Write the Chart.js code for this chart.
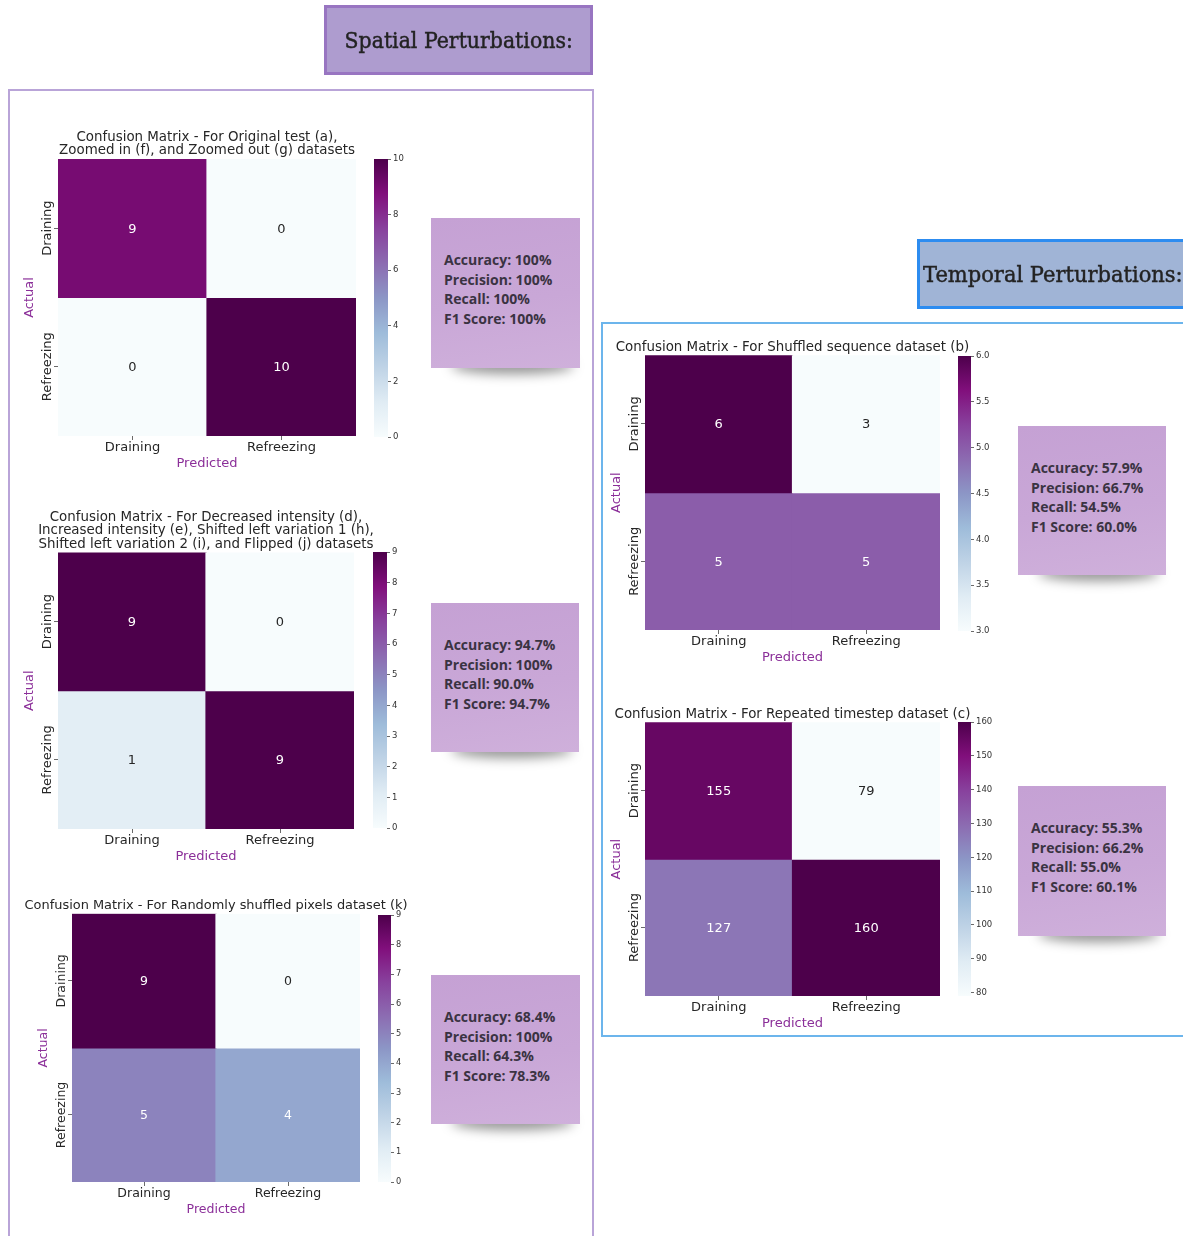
<!DOCTYPE html>
<html>
<head>
<meta charset="utf-8">
<title>Confusion matrices – spatial and temporal perturbations</title>
<script src="https://cdn.jsdelivr.net/npm/chart.js@4.4.1/dist/chart.umd.min.js"></script>
<style>
  html, body { margin: 0; padding: 0; background: #fff; }
  body { position: relative; width: 1183px; height: 1236px; overflow: hidden; font-family: 'DejaVu Sans', sans-serif; }
  .frame { position: absolute; box-sizing: border-box; }
  .header { position: absolute; box-sizing: border-box; display: flex; align-items: center; font-family: 'DejaVu Serif', serif; font-size: 22px; color: #232323; white-space: nowrap; -webkit-text-stroke: 0.45px #232323; }
  .header span { display: inline-block; transform: scaleX(0.93); }
  .note { position: absolute; box-sizing: border-box; padding: 32px 0 0 13px; background: linear-gradient(172deg, #c5a1d4 0%, #c9a7d7 55%, #cfb0db 100%); font-family: 'Open Sans', sans-serif; font-weight: 700; font-size: 14px; line-height: 19.7px; color: #3a3342; white-space: nowrap; }
  .shadow { position: absolute; background: rgba(0,0,0,0.42); filter: blur(6px); border-radius: 50%; }
  canvas { position: absolute; }
</style>
</head>
<body>
<script>
// ---- data ---------------------------------------------------------------
const classes = ['Draining', 'Refreezing'];
const metricNames = ['Accuracy', 'Precision', 'Recall', 'F1 Score'];

const titleOriginal = ['Confusion Matrix - For Original test (a),', 'Zoomed in (f), and Zoomed out (g) datasets'];
const titleIntensity = ['Confusion Matrix - For Decreased intensity (d),', 'Increased intensity (e), Shifted left variation 1 (h),', 'Shifted left variation 2 (i), and Flipped (j) datasets'];
const titlePixels = ['Confusion Matrix - For Randomly shuffled pixels dataset (k)'];
const titleShuffled = ['Confusion Matrix - For Shuffled sequence dataset (b)'];
const titleRepeated = ['Confusion Matrix - For Repeated timestep dataset (c)'];

// rows = actual, columns = predicted
const cmOriginal = [[9, 0], [0, 10]];
const cmIntensity = [[9, 0], [1, 9]];
const cmPixels = [[9, 0], [5, 4]];
const cmShuffled = [[6, 3], [5, 5]];
const cmRepeated = [[155, 79], [127, 160]];

const ticksOriginal = [0, 2, 4, 6, 8, 10];
const ticksIntensity = [0, 1, 2, 3, 4, 5, 6, 7, 8, 9];
const ticksPixels = [0, 1, 2, 3, 4, 5, 6, 7, 8, 9];
const ticksShuffled = [3.0, 3.5, 4.0, 4.5, 5.0, 5.5, 6.0];
const ticksRepeated = [80, 90, 100, 110, 120, 130, 140, 150, 160];

const metricsOriginal = [100, 100, 100, 100];
const metricsIntensity = [94.7, 100, 90.0, 94.7];
const metricsPixels = [68.4, 100, 64.3, 78.3];
const metricsShuffled = [57.9, 66.7, 54.5, 60.0];
const metricsRepeated = [55.3, 66.2, 55.0, 60.1];

// ---- layout -------------------------------------------------------------
const panels = [
  { values: cmOriginal, title: titleOriginal, ticks: ticksOriginal, dec: 0, metrics: metricsOriginal, fs: 1,
    hm: { l: 58, t: 159, r: 356, b: 436 }, cb: { l: 374, t: 159, r: 388, b: 437 }, note: { l: 431, t: 218, w: 149, h: 150 } },
  { values: cmIntensity, title: titleIntensity, ticks: ticksIntensity, dec: 0, metrics: metricsIntensity, fs: 1,
    hm: { l: 58, t: 552, r: 354, b: 828 }, cb: { l: 373, t: 552, r: 387, b: 828 }, note: { l: 431, t: 603, w: 148, h: 149 } },
  { values: cmPixels, title: titlePixels, ticks: ticksPixels, dec: 0, metrics: metricsPixels, fs: 0.965,
    hm: { l: 72, t: 914, r: 360, b: 1182 }, cb: { l: 378, t: 915, r: 391, b: 1182 }, note: { l: 431, t: 975, w: 149, h: 149 } },
  { values: cmShuffled, title: titleShuffled, ticks: ticksShuffled, dec: 1, metrics: metricsShuffled, fs: 1,
    hm: { l: 645, t: 355, r: 940, b: 630 }, cb: { l: 958, t: 356, r: 971, b: 631 }, note: { l: 1018, t: 426, w: 148, h: 149 } },
  { values: cmRepeated, title: titleRepeated, ticks: ticksRepeated, dec: 0, metrics: metricsRepeated, fs: 1,
    hm: { l: 645, t: 722, r: 940, b: 996 }, cb: { l: 958, t: 722, r: 971, b: 996 }, note: { l: 1018, t: 786, w: 148, h: 150 } }
];

const TEXT = '#262626';
const LABEL_PURPLE = '#8b2f99';
const AXW = 40;      // y-axis band (rotated labels + axis title)
const PADX = 30;     // extra room so wide titles are not squeezed
const XH = 39;       // x-axis band (tick labels + axis title)
const CBPAD = 8;
const CBAX = 30;
const TITLE_PAD_TOP = 3.5, TITLE_PAD_BOTTOM = 1.2;

Chart.defaults.font.family = "'DejaVu Sans', sans-serif";
Chart.defaults.color = TEXT;

// matplotlib BuPu
const BUPU = ['#f7fcfd', '#e0ecf4', '#bfd3e6', '#9ebcda', '#8c96c6', '#8c6bb1', '#88419d', '#810f7c', '#4d004b'];
function hexRgb(h) { return [1, 3, 5].map(i => parseInt(h.substr(i, 2), 16)); }
function bupu(t) {
  t = Math.max(0, Math.min(1, t));
  const x = t * 8, i = Math.min(7, Math.floor(x)), f = x - i;
  const a = hexRgb(BUPU[i]), b = hexRgb(BUPU[i + 1]);
  return a.map((v, k) => Math.round(v + (b[k] - v) * f));
}
function rgbStr(c) { return `rgb(${c[0]},${c[1]},${c[2]})`; }
function luminance(c) {
  const lin = c.map(v => { v /= 255; return v <= 0.03928 ? v / 12.92 : Math.pow((v + 0.055) / 1.055, 2.4); });
  return 0.2126 * lin[0] + 0.7152 * lin[1] + 0.0722 * lin[2];
}

// value annotations inside the cells
const cellText = {
  id: 'cellText',
  afterDatasetsDraw(chart, args, opts) {
    const ctx = chart.ctx;
    ctx.save();
    ctx.font = `${opts.size}px 'DejaVu Sans', sans-serif`;
    ctx.textAlign = 'center';
    ctx.textBaseline = 'middle';
    chart.data.datasets.forEach((ds, i) => {
      chart.getDatasetMeta(i).data.forEach((bar, j) => {
        const v = opts.values[i][j];
        const c = bupu((v - opts.vmin) / (opts.vmax - opts.vmin));
        ctx.fillStyle = luminance(c) > 0.408 ? TEXT : '#ffffff';
        ctx.fillText(String(v), bar.x, (bar.y + bar.base) / 2 + 1);
      });
    });
    ctx.restore();
  }
};

// rotated row labels on the y axis
const rowLabels = {
  id: 'rowLabels',
  afterDraw(chart, args, opts) {
    const ctx = chart.ctx, ys = chart.scales.y;
    const x = chart.chartArea.left - 7.5;
    ctx.save();
    ctx.font = `${opts.size}px 'DejaVu Sans', sans-serif`;
    ctx.fillStyle = TEXT;
    ctx.textAlign = 'center';
    ctx.textBaseline = 'alphabetic';
    opts.labels.forEach((lab, i) => {
      ctx.save();
      ctx.translate(x, ys.getPixelForValue(i + 0.5));
      ctx.rotate(-Math.PI / 2);
      ctx.fillText(lab, 0, 0);
      ctx.restore();
    });
    ctx.restore();
  }
};

function addEl(cls, style, html) {
  const d = document.createElement('div');
  d.className = cls;
  Object.assign(d.style, style);
  if (html !== undefined) d.innerHTML = html;
  document.body.appendChild(d);
  return d;
}
function addCanvas(l, t, w, h) {
  const c = document.createElement('canvas');
  c.width = Math.round(w); c.height = Math.round(h);
  c.style.left = l + 'px'; c.style.top = t + 'px';
  c.style.width = Math.round(w) + 'px'; c.style.height = Math.round(h) + 'px';
  document.body.appendChild(c);
  return c;
}
const fmtMetric = v => (v === 100 ? '100' : v.toFixed(1)) + '%';

// ---- frames and headers --------------------------------------------------
addEl('frame', { left: '8px', top: '89px', width: '586px', height: '1220px', border: '2px solid #b9a4d8' });
addEl('frame', { left: '601px', top: '322px', width: '640px', height: '715px', border: '2px solid #6cb5ec' });
addEl('header', { left: '324px', top: '5px', width: '269px', height: '70px', border: '3px solid #9875c1', background: '#ae9ccf', justifyContent: 'center' }, '<span>Spatial Perturbations:</span>');
addEl('header', { left: '917px', top: '239px', width: '300px', height: '70px', border: '3px solid #2d8cf0', background: '#a0b4d6', paddingLeft: '3px' }, '<span style="transform-origin:left center;transform:scaleX(0.955)">Temporal Perturbations:</span>');

// ---- panels --------------------------------------------------------------
panels.forEach(p => {
  const flat = p.values.flat();
  const vmin = Math.min(...flat), vmax = Math.max(...flat);
  const fs = p.fs;
  const tSize = 13.4 * fs, tLH = 13.6 * fs;
  const tickSize = 13 * fs;

  // heatmap
  const H = p.hm, W = H.r - H.l, HH = H.b - H.t;
  const side = AXW + PADX;
  const titleH = p.title.length * tLH + TITLE_PAD_TOP + TITLE_PAD_BOTTOM;
  const cv = addCanvas(H.l - side, H.t - titleH, W + 2 * side, HH + titleH + XH);
  new Chart(cv, {
    type: 'bar',
    data: {
      labels: classes,
      datasets: p.values.map((row, i) => ({
        data: row.map(() => [i, i + 1]),
        backgroundColor: row.map(v => rgbStr(bupu((v - vmin) / (vmax - vmin)))),
        borderWidth: 0,
        inflateAmount: 0.6,
        barPercentage: 1,
        categoryPercentage: 1,
        grouped: false
      }))
    },
    options: {
      responsive: false,
      animation: false,
      devicePixelRatio: 1,
      layout: { padding: 0 },
      plugins: {
        legend: { display: false },
        tooltip: { enabled: false },
        title: { display: true, text: p.title, color: TEXT, font: { size: tSize, weight: 'normal', lineHeight: tLH / tSize }, padding: { top: TITLE_PAD_TOP, bottom: TITLE_PAD_BOTTOM } },
        cellText: { values: p.values, vmin, vmax, size: 13 * fs },
        rowLabels: { labels: classes, size: tickSize }
      },
      scales: {
        x: {
          type: 'category', position: 'bottom',
          grid: { drawOnChartArea: false, drawTicks: true, tickLength: 4, offset: false, color: '#444', lineWidth: 0.8 },
          border: { display: false },
          ticks: { padding: 0, maxRotation: 0, color: TEXT, font: { size: tickSize } },
          title: { display: true, text: 'Predicted', color: LABEL_PURPLE, font: { size: tickSize }, padding: { top: 0, bottom: 4 } },
          afterFit(s) { s.height = XH; }
        },
        y: {
          type: 'linear', position: 'left', min: 0, max: classes.length, reverse: true,
          grid: { drawOnChartArea: false, drawTicks: true, tickLength: 4, color: '#444', lineWidth: 0.8 },
          border: { display: false },
          ticks: { display: false },
          afterBuildTicks(s) { s.ticks = classes.map((c, i) => ({ value: i + 0.5 })); },
          title: { display: true, text: 'Actual', color: LABEL_PURPLE, font: { size: tickSize }, padding: { top: 4 + PADX, bottom: 0 } },
          afterFit(s) { s.width = side; }
        },
        pad: {
          type: 'linear', position: 'right', display: true,
          grid: { display: false }, border: { display: false }, ticks: { display: false },
          afterFit(s) { s.width = side; }
        }
      }
    },
    plugins: [cellText, rowLabels]
  });

  // colour bar
  const C = p.cb;
  const cc = addCanvas(C.l, C.t - CBPAD, (C.r - C.l) + CBAX, (C.b - C.t) + 2 * CBPAD);
  new Chart(cc, {
    type: 'bar',
    data: {
      labels: [''],
      datasets: [{
        data: [[vmin, vmax]],
        backgroundColor(ctx) {
          const a = ctx.chart.chartArea;
          if (!a) return BUPU[0];
          const g = ctx.chart.ctx.createLinearGradient(0, a.bottom, 0, a.top);
          BUPU.forEach((c, k) => g.addColorStop(k / (BUPU.length - 1), c));
          return g;
        },
        borderWidth: 0,
        barPercentage: 1,
        categoryPercentage: 1
      }]
    },
    options: {
      responsive: false,
      animation: false,
      devicePixelRatio: 1,
      layout: { padding: { top: CBPAD, bottom: CBPAD, left: 0, right: 0 } },
      plugins: { legend: { display: false }, tooltip: { enabled: false } },
      scales: {
        x: { display: false },
        y: {
          position: 'right', min: vmin, max: vmax,
          grid: { drawOnChartArea: false, drawTicks: true, tickLength: 3, color: '#444', lineWidth: 0.8 },
          border: { display: false },
          ticks: { padding: 2, color: '#333', font: { size: 8.5 * fs }, callback: v => Number(v).toFixed(p.dec) },
          afterBuildTicks(s) { s.ticks = p.ticks.map(v => ({ value: v })); },
          afterFit(s) { s.width = CBAX; }
        }
      }
    }
  });

  // metric note with its drop shadow
  const N = p.note;
  addEl('shadow', { left: (N.l + 20) + 'px', top: (N.t + N.h - 10) + 'px', width: (N.w - 26) + 'px', height: '16px' });
  addEl('note', { left: N.l + 'px', top: N.t + 'px', width: N.w + 'px', height: N.h + 'px' },
    metricNames.map((m, i) => `${m}: ${fmtMetric(p.metrics[i])}`).join('<br>'));
});
</script>
</body>
</html>
